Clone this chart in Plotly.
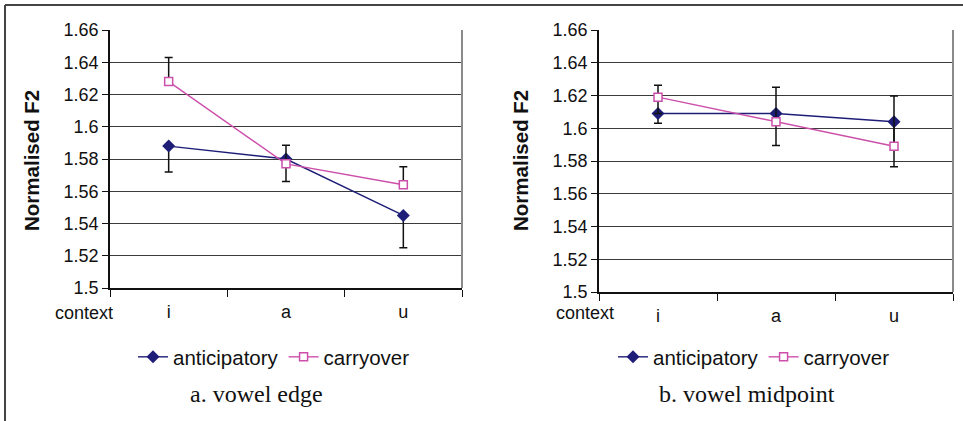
import plotly.graph_objects as go

# ---------------- data ----------------
contexts = ["i", "a", "u"]
series_names = ["anticipatory", "carryover"]

# panel a: vowel edge
edge_anticipatory = [1.588, 1.580, 1.545]
edge_anticipatory_err_minus = [0.016, 0.014, 0.020]
edge_carryover = [1.628, 1.577, 1.564]
edge_carryover_err_plus = [0.015, 0.0115, 0.0112]

# panel b: vowel midpoint
mid_anticipatory = [1.609, 1.609, 1.604]
mid_anticipatory_err_minus = [0.006, 0.0195, 0.0275]
mid_carryover = [1.619, 1.604, 1.589]
mid_carryover_err_plus = [0.0073, 0.021, 0.0307]
mid_carryover_err_minus = [0.010, 0.0, 0.0]

y_ticks = [1.5, 1.52, 1.54, 1.56, 1.58, 1.6, 1.62, 1.64, 1.66]
y_ticktext = ["1.5", "1.52", "1.54", "1.56", "1.58", "1.6", "1.62", "1.64", "1.66"]
captions = ["a. vowel edge", "b. vowel midpoint"]
y_title = "Normalised F2"
x_label = "context"

# ---------------- style ----------------
W, H = 963, 421
NAVY = "#1E1E78"
MAGENTA = "#CC4FAA"
SANS = "Liberation Sans, Arial, sans-serif"
SERIF = "Liberation Serif, Times New Roman, serif"

def px_x(px):
    return px / W

def px_y(py):
    return 1 - py / H

fig = go.Figure()

def add_pair(xa, ya, legend, ant, ant_minus, car, car_plus, car_minus):
    fig.add_trace(go.Scatter(
        x=contexts, y=ant, name=series_names[0], mode="lines+markers",
        xaxis=xa, yaxis=ya, legend=legend,
        line=dict(color=NAVY, width=1.4),
        marker=dict(symbol="diamond", size=10, color=NAVY, line=dict(width=0)),
        error_y=dict(type="data", symmetric=False, array=[0] * len(ant),
                     arrayminus=ant_minus, color="#111111", thickness=1.5, width=4),
    ))
    fig.add_trace(go.Scatter(
        x=contexts, y=car, name=series_names[1], mode="lines+markers",
        xaxis=xa, yaxis=ya, legend=legend,
        line=dict(color=MAGENTA, width=1.4),
        marker=dict(symbol="square", size=8, color="white",
                    line=dict(color=MAGENTA, width=1.5)),
        error_y=dict(type="data", symmetric=False, array=car_plus,
                     arrayminus=car_minus, color="#111111", thickness=1.5, width=4),
    ))

add_pair("x", "y", "legend", edge_anticipatory, edge_anticipatory_err_minus,
         edge_carryover, edge_carryover_err_plus, [0] * 3)
add_pair("x2", "y2", "legend2", mid_anticipatory, mid_anticipatory_err_minus,
         mid_carryover, mid_carryover_err_plus, mid_carryover_err_minus)

xa_common = dict(
    type="category", categoryorder="array", categoryarray=contexts,
    range=[-0.5, 2.5], tickson="boundaries", ticks="outside", ticklen=7,
    tickwidth=1.2, tickcolor="#111111", showline=True, linecolor="#111111",
    linewidth=1.5, showgrid=False, zeroline=False, automargin=False,
    tickfont=dict(family=SANS, size=18, color="#111111"),
    ticklabelstandoff=7, fixedrange=True,
)
ya_common = dict(
    range=[1.5, 1.66], tickmode="array", tickvals=y_ticks, ticktext=y_ticktext,
    ticks="outside", ticklen=6, tickwidth=1.2, tickcolor="#111111",
    showline=True, linecolor="#111111", linewidth=1.5, automargin=False,
    showgrid=True, gridcolor="#3a3a3a", gridwidth=1.2, zeroline=False,
    tickfont=dict(family=SANS, size=18, color="#111111"), fixedrange=True,
)

fig.update_layout(
    width=W, height=H,
    margin=dict(l=0, r=0, t=0, b=0, autoexpand=False),
    paper_bgcolor="white", plot_bgcolor="white",
    xaxis=dict(domain=[px_x(110), px_x(462)], anchor="y", **xa_common),
    yaxis=dict(domain=[px_y(288), px_y(30)], anchor="x", **ya_common),
    xaxis2=dict(domain=[px_x(599), px_x(953)], anchor="y2", **xa_common),
    yaxis2=dict(domain=[px_y(292), px_y(30)], anchor="x2", **ya_common),
    legend=dict(orientation="h", x=px_x(133), y=px_y(337), xanchor="left", yanchor="top",
                font=dict(family=SANS, size=20.5, color="#111111"),
                bgcolor="rgba(0,0,0,0)", itemclick=False, itemdoubleclick=False),
    legend2=dict(orientation="h", x=px_x(613), y=px_y(337), xanchor="left", yanchor="top",
                 font=dict(family=SANS, size=20.5, color="#111111"),
                 bgcolor="rgba(0,0,0,0)", itemclick=False, itemdoubleclick=False),
    showlegend=True,
)

annotations = []
for xc, yc in [(32, 161), (521, 161)]:
    annotations.append(dict(
        text=y_title, x=px_x(xc), y=px_y(yc), xref="paper", yref="paper",
        textangle=-90, showarrow=False, xanchor="center", yanchor="middle",
        font=dict(family=SANS, size=20.5, color="#111111", weight="bold"),
    ))
for xc in [84, 585]:
    annotations.append(dict(
        text=x_label, x=px_x(xc), y=px_y(313), xref="paper", yref="paper",
        showarrow=False, xanchor="center", yanchor="middle",
        font=dict(family=SANS, size=18, color="#111111"),
    ))
for cap, xc in zip(captions, [256, 747]):
    annotations.append(dict(
        text=cap, x=px_x(xc), y=px_y(394), xref="paper", yref="paper",
        showarrow=False, xanchor="center", yanchor="middle",
        font=dict(family=SERIF, size=24, color="#111111"),
    ))
fig.update_layout(annotations=annotations)

shapes = [
    # outer frame: top and left
    dict(type="line", xref="paper", yref="paper", x0=px_x(5), x1=1.0,
         y0=px_y(5), y1=px_y(5), line=dict(color="#444444", width=2)),
    dict(type="line", xref="paper", yref="paper", x0=px_x(5), x1=px_x(5),
         y0=px_y(5), y1=0.0, line=dict(color="#444444", width=2)),
    # right border of plot areas
    dict(type="line", xref="x domain", yref="y domain", x0=1, x1=1, y0=0, y1=1,
         line=dict(color="#8a8a8a", width=2)),
    dict(type="line", xref="x2 domain", yref="y2 domain", x0=1, x1=1, y0=0, y1=1,
         line=dict(color="#8a8a8a", width=2)),
]
fig.update_layout(shapes=shapes)

fig.write_html("out.html")
